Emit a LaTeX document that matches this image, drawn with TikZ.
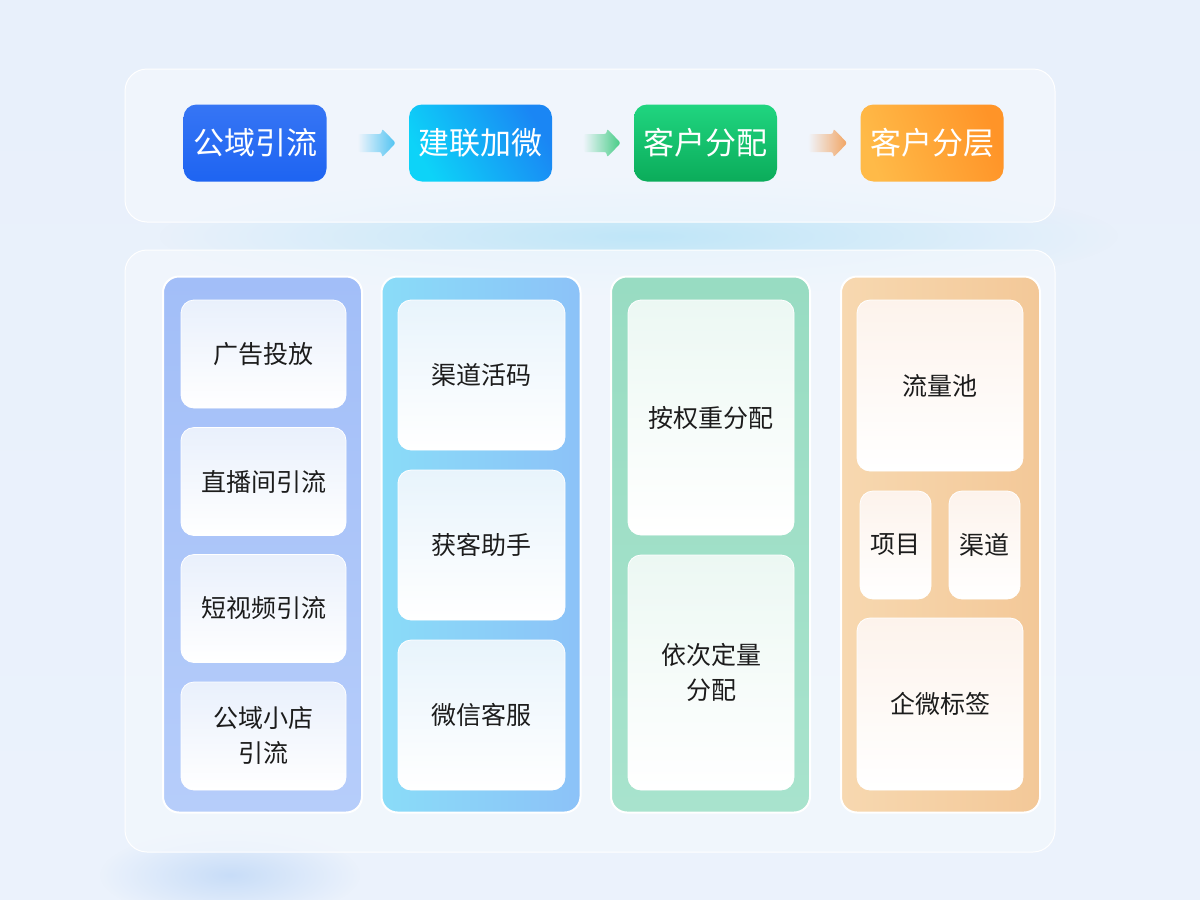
\documentclass[tikz,border=0pt]{standalone}
\usepackage{fontspec}
\setmainfont{Noto Sans CJK SC}
\usetikzlibrary{calc,fadings}
\tikzfading[name=arrowfade, left color=transparent!100, right color=transparent!0]
\tikzfading[name=softglow, inner color=transparent!0, outer color=transparent!100]
\definecolor{bgc}{HTML}{EBF2FC}
\definecolor{bgtop}{HTML}{E8F0FB}
\definecolor{glow}{HTML}{BFE6F8}
\definecolor{glowb}{HTML}{C8DDF8}
\definecolor{panelc}{HTML}{F2F7FD}
\definecolor{txt}{HTML}{1C1C1C}
\definecolor{hAt}{HTML}{3675F4}\definecolor{hAb}{HTML}{1E64F2}
\definecolor{hBl}{HTML}{0DD3F8}\definecolor{hBr}{HTML}{1A86F4}
\definecolor{hCt}{HTML}{20D580}\definecolor{hCb}{HTML}{0BAC5A}
\definecolor{hDl}{HTML}{FFBA48}\definecolor{hDr}{HTML}{FF9428}
\definecolor{arA}{HTML}{4FC3F2}\definecolor{arB}{HTML}{45CC85}\definecolor{arC}{HTML}{F2A462}
\definecolor{c1a}{HTML}{A2BEF8}\definecolor{c1b}{HTML}{B6CDFA}
\definecolor{c2a}{HTML}{8ADCF8}\definecolor{c2b}{HTML}{8CC2F8}
\definecolor{c3a}{HTML}{98DCC2}\definecolor{c3b}{HTML}{A8E3CD}
\definecolor{c4a}{HTML}{F7D8B0}\definecolor{c4b}{HTML}{F3C898}
\definecolor{i1}{HTML}{E9F0FC}\definecolor{i2}{HTML}{E8F4FC}
\definecolor{i3}{HTML}{ECF8F3}\definecolor{i4}{HTML}{FDF3EC}
\begin{document}
\begin{tikzpicture}[x=1pt,y=-1pt,
  panel/.style={rounded corners=22pt, fill=panelc, draw=white, line width=1pt, fill opacity=0.8},
  hbox/.style={rounded corners=13pt, minimum width=143pt, minimum height=77pt, inner sep=0pt,
     text=white, font=\fontsize{31}{36}\selectfont},
  colbox/.style={rounded corners=16pt, draw=white, line width=2pt, minimum width=199pt, minimum height=536pt, inner sep=0pt},
  ibox/.style={rounded corners=13pt, draw=white, line width=0.8pt, inner sep=0pt, align=center,
     text=txt, font=\fontsize{25}{35}\selectfont, bottom color=white},
]
\useasboundingbox (0,0) rectangle (1200,900);
% background
\shade[top color=bgtop, bottom color=bgc] (0,0) rectangle (1200,900);
\fill[glow, path fading=softglow] (640,236) ellipse [x radius=480, y radius=60];
\fill[glowb, path fading=softglow] (230,875) ellipse [x radius=130, y radius=45];
% panels
\path[panel] (125,69) rectangle (1055,222);
\path[panel] (125,250) rectangle (1055,852);
% header boxes
\node[hbox, top color=hAt, bottom color=hAb] (h1) at (255,143) {公域引流};
\node[hbox, left color=hBl, right color=hBr, shading angle=120] (h2) at (480.5,143) {建联加微};
\node[hbox, top color=hCt, bottom color=hCb] (h3) at (705.5,143) {客户分配};
\node[hbox, left color=hDl, right color=hDr, shading angle=110] (h4) at (932,143) {客户分层};
% arrows
\foreach \a/\b/\c in {h1/h2/arA, h2/h3/arB, h3/h4/arC}{
  \coordinate (s) at ($(\a.east)+(31,0)$);
  \coordinate (e) at ($(\b.west)+(-13,0)$);
  \fill[\c, path fading=arrowfade, rounded corners=2.5pt]
    ($(s)+(0,-9)$) -- ($(e)+(-14,-9)$) -- ($(e)+(-14,-14.5)$) -- (e)
    -- ($(e)+(-14,14.5)$) -- ($(e)+(-14,9)$) -- ($(s)+(0,9)$) -- cycle;
}
% columns
\node[colbox, top color=c1a, bottom color=c1b] (col1) at (262.5,544.5) {};
\node[colbox, left color=c2a, right color=c2b] (col2) at (481,544.5) {};
\node[colbox, top color=c3a, bottom color=c3b] (col3) at (710.5,544.5) {};
\node[colbox, left color=c4a, right color=c4b] (col4) at (940.5,544.5) {};
% column 1
\node[ibox, top color=i1, minimum width=165pt, minimum height=108pt] (a1) at (263.5,354) {广告投放};
\node[ibox, top color=i1, minimum width=165pt, minimum height=108pt] (a2) at (263.5,481.5) {直播间引流};
\node[ibox, top color=i1, minimum width=165pt, minimum height=108pt] (a3) at (263.5,608.5) {短视频引流};
\node[ibox, top color=i1, minimum width=165pt, minimum height=108pt] (a4) at (263.5,736) {公域小店\\引流};
% column 2
\node[ibox, top color=i2, minimum width=167pt, minimum height=150pt] (b1) at (481.5,375) {渠道活码};
\node[ibox, top color=i2, minimum width=167pt, minimum height=150pt] (b2) at (481.5,545) {获客助手};
\node[ibox, top color=i2, minimum width=167pt, minimum height=150pt] (b3) at (481.5,715) {微信客服};
% column 3
\node[ibox, top color=i3, minimum width=166pt, minimum height=235pt] (d1) at (711,417.5) {按权重分配};
\node[ibox, top color=i3, minimum width=166pt, minimum height=235pt] (d2) at (711,672.5) {依次定量\\分配};
% column 4
\node[ibox, top color=i4, minimum width=166pt, minimum height=171pt] (e1) at (940,385.5) {流量池};
\node[ibox, top color=i4, minimum width=71pt, minimum height=108pt] (e2) at (895.5,545) {项目};
\node[ibox, top color=i4, minimum width=71pt, minimum height=108pt] (e3) at (984.5,545) {渠道};
\node[ibox, top color=i4, minimum width=166pt, minimum height=172pt] (e4) at (940,704) {企微标签};
\end{tikzpicture}
\end{document}
